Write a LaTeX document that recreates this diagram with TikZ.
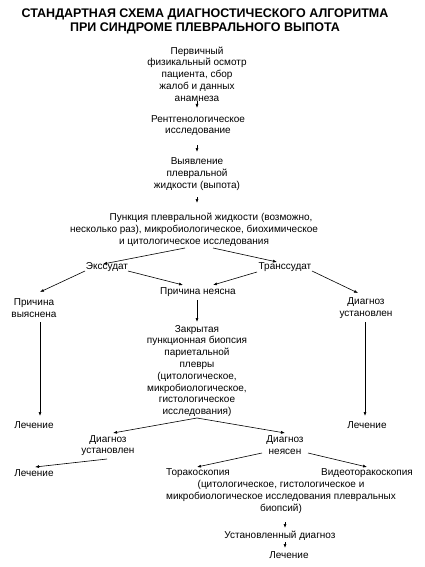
\documentclass[tikz,border=0pt]{standalone}
\usepackage{fontspec}
\setmainfont{Liberation Sans}
\usetikzlibrary{arrows.meta,calc}
\begin{document}
\begin{tikzpicture}[x=1pt,y=-1pt,
  txt/.style={inner sep=0pt,align=center,font=\fontsize{10}{11.8}\selectfont},
  ttl/.style={inner sep=0pt,align=center,font=\fontsize{12.5}{14}\selectfont\bfseries},
  arr/.style={draw=black,line width=0.6pt,-{Latex[length=4pt,width=3pt]}}]
\useasboundingbox (0,0) rectangle (424,567);
\node[ttl] (title) at (205,21) {СТАНДАРТНАЯ СХЕМА ДИАГНОСТИЧЕСКОГО АЛГОРИТМА\\ПРИ СИНДРОМЕ ПЛЕВРАЛЬНОГО ВЫПОТА};
\node[txt] (prim) at (197,74) {Первичный\\физикальный осмотр\\пациента, сбор\\жалоб и данных\\анамнеза};
\node[txt] (rent) at (198,125.5) {Рентгенологическое\\исследование};
\node[txt] (vyav) at (197,174) {Выявление\\плевральной\\жидкости (выпота)};
\node[txt] (punk) at (194,229.5) {\hspace*{34pt}Пункция плевральной жидкости (возможно,\\несколько раз), микробиологическое, биохимическое\\и цитологическое исследования};
\node[txt] (exs) at (107,267) {Экссудат};
\node[txt] (trans) at (285,267) {Транссудат};
\node[txt] (pvyas) at (34,308) {Причина\\выяснена};
\node[txt] (pneyas) at (198,292) {Причина неясна};
\node[txt] (diag1) at (366,308) {Диагноз\\установлен};
\node[txt] (zakr) at (197,371) {Закрытая\\пункционная биопсия\\париетальной\\плевры\\(цитологическое,\\микробиологическое,\\гистологическое\\исследования)};
\node[txt] (lech1) at (34,425) {Лечение};
\node[txt] (lech2) at (367,425) {Лечение};
\node[txt] (diag2) at (108,445.5) {Диагноз\\установлен};
\node[txt] (diag3) at (285,445.5) {Диагноз\\неясен};
\node[txt] (lech3) at (34,473) {Лечение};
\node[txt] (torak) at (198,473) {Торакоскопия};
\node[txt] (video) at (367,473) {Видеоторакоскопия};
\node[txt] (paren) at (281,497) {(цитологическое, гистологическое и\\микробиологическое исследования плевральных\\биопсий)};
\node[txt] (ust) at (280,536) {Установленный диагноз};
\node[txt] (lech4) at (289,555) {Лечение};
\draw[arr] ($(prim)+(0,27)$) -- ($(rent)+(-1,-17.5)$);
\draw[arr] ($(rent)+(-1,19.5)$) -- ($(vyav)+(0,-22)$);
\draw[arr] ($(vyav)+(0,23)$) -- ($(punk)+(3,-26.5)$);
\draw[arr] ($(punk)+(-9,18.5)$) -- ($(exs)+(-4,-3)$);
\draw[arr] ($(punk)+(19,18.5)$) -- ($(trans)+(-8,-5)$);
\draw[arr] ($(exs)+(-22,4)$) -- ($(pvyas)+(6,-16)$);
\draw[arr] ($(exs)+(21,4)$) -- ($(pneyas)+(-15,-7)$);
\draw[arr] ($(trans)+(-28,5)$) -- ($(pneyas)+(15,-7)$);
\draw[arr] ($(trans)+(27,4)$) -- ($(diag1)+(-8,-15)$);
\draw[arr] ($(pneyas)+(-1,8)$) -- ($(zakr)+(0,-49)$);
\draw[arr] ($(pvyas)+(6,14)$) -- ($(lech1)+(6,-9)$);
\draw[arr] ($(diag1)+(-1,14)$) -- ($(lech2)+(-2,-9)$);
\draw[arr] ($(zakr)+(0,47)$) -- ($(diag2)+(5,-12.5)$);
\draw[arr] ($(zakr)+(0,47)$) -- ($(diag3)+(0,-12.5)$);
\draw[arr] ($(diag2)+(-1,13.5)$) -- ($(lech3)+(1,-6)$);
\draw[arr] ($(diag3)+(-23,7.5)$) -- ($(torak)+(-1,-6)$);
\draw[arr] ($(diag3)+(23,7.5)$) -- ($(video)+(0,-6)$);
\draw[arr] ($(paren)+(4,25)$) -- ($(ust)+(5,-8)$);
\draw[arr] ($(ust)+(5,6)$) -- ($(lech4)+(-4,-7)$);
\end{tikzpicture}
\end{document}
